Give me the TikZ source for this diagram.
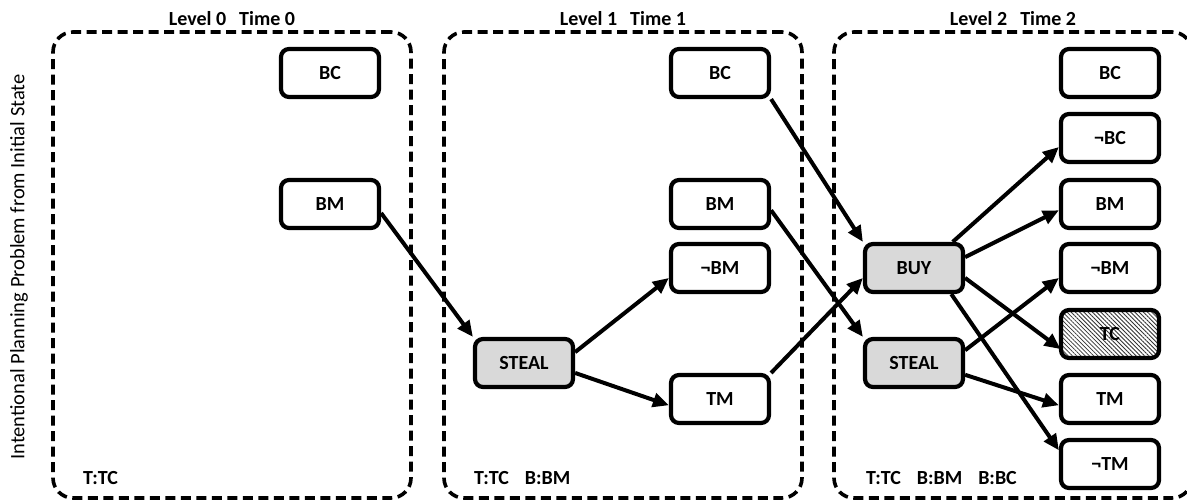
\documentclass[tikz,border=0pt]{standalone}
\usepackage{fontspec}
\setmainfont{Carlito}
\usetikzlibrary{arrows.meta,patterns.meta,calc}

\begin{document}
\begin{tikzpicture}[x=1pt,y=-1pt,
  panel/.style={draw, line width=3.6pt, dash pattern=on 10pt off 5.5pt, rounded corners=20pt,
    minimum width=358pt, minimum height=466pt, inner sep=0pt},
  title/.style={font=\fontsize{20}{22}\selectfont\bfseries, inner sep=0pt},
  belief/.style={font=\fontsize{20}{22}\selectfont\bfseries, inner sep=0pt, anchor=west},
  fact/.style={draw, line width=4.2pt, rounded corners=8pt, minimum width=98pt,
    minimum height=48pt, inner sep=0pt, fill=white, font=\fontsize{20}{22}\selectfont\bfseries},
  act/.style={fact, fill=black!15},
  goal/.style={fact, preaction={fill=white},
    pattern={Lines[angle=-45, distance=3pt, line width=0.8pt]}, pattern color=black!80},
  link/.style={line width=4pt, -{Triangle[length=16pt, width=14pt]}},
]
\useasboundingbox (0,0) rectangle (1187,501);

% side label
\node[rotate=90, font=\fontsize{20.5}{22}\selectfont, inner sep=0pt] (side) at (19,267)
  {Intentional Planning Problem from Initial State};

% the three levels
\node[panel] (p0) at (232,265) {};
\node[panel] (p1) at (623,265) {};
\node[panel] (p2) at (1013,265) {};
\node[title] (t0) at (232,19) {Level 0\hspace{13pt}Time 0};
\node[title] (t1) at (623,19) {Level 1\hspace{13pt}Time 1};
\node[title] (t2) at (1013,19) {Level 2\hspace{13pt}Time 2};

\node[belief] (b0) at (83,478) {T:TC};
\node[belief] (b1) at (474,478) {T:TC\hspace{16pt}B:BM};
\node[belief] (b2) at (866,478) {T:TC\hspace{16pt}B:BM\hspace{16pt}B:BC};

% level 0
\node[fact] (bc0) at (330,73) {BC};
\node[fact] (bm0) at (330,204) {BM};

% level 1
\node[act]  (steal1) at (524,363) {STEAL};
\node[fact] (bc1)  at (720,73)  {BC};
\node[fact] (bm1)  at (720,204) {BM};
\node[fact] (nbm1) at (720,268) {¬BM};
\node[fact] (tm1)  at (720,399) {TM};

% level 2
\node[act]  (buy)    at (914,268) {BUY};
\node[act]  (steal2) at (914,363) {STEAL};
\node[fact] (bc2)  at (1110,73)  {BC};
\node[fact] (nbc2) at (1110,138) {¬BC};
\node[fact] (bm2)  at (1110,204) {BM};
\node[fact] (nbm2) at (1110,268) {¬BM};
\node[goal] (tc2)  at (1110,334) {TC};
\node[fact] (tm2)  at (1110,399) {TM};
\node[fact] (ntm2) at (1110,464) {¬TM};

% preconditions and effects
\draw[link] (bm0.-10) -- (steal1.north west);
\draw[link] (steal1.12) -- (nbm1.191);
\draw[link] (steal1.-11) -- (tm1.187);
\draw[link] (bc1.south east) -- (buy.north west);
\draw[link] (bm1.-7) -- (steal2.north west);
\draw[link] (tm1.north east) -- (buy.191);
\draw[link] (buy.34) -- (nbc2.190);
\draw[link] (buy.12) -- (bm2.187);
\draw[link] (buy.-11) -- (tc2.197);
\draw[link] (buy.-35) -- (ntm2.165);
\draw[link] (steal2.14) -- (nbm2.191);
\draw[link] (steal2.-13) -- (tm2.187);
\end{tikzpicture}
\end{document}
